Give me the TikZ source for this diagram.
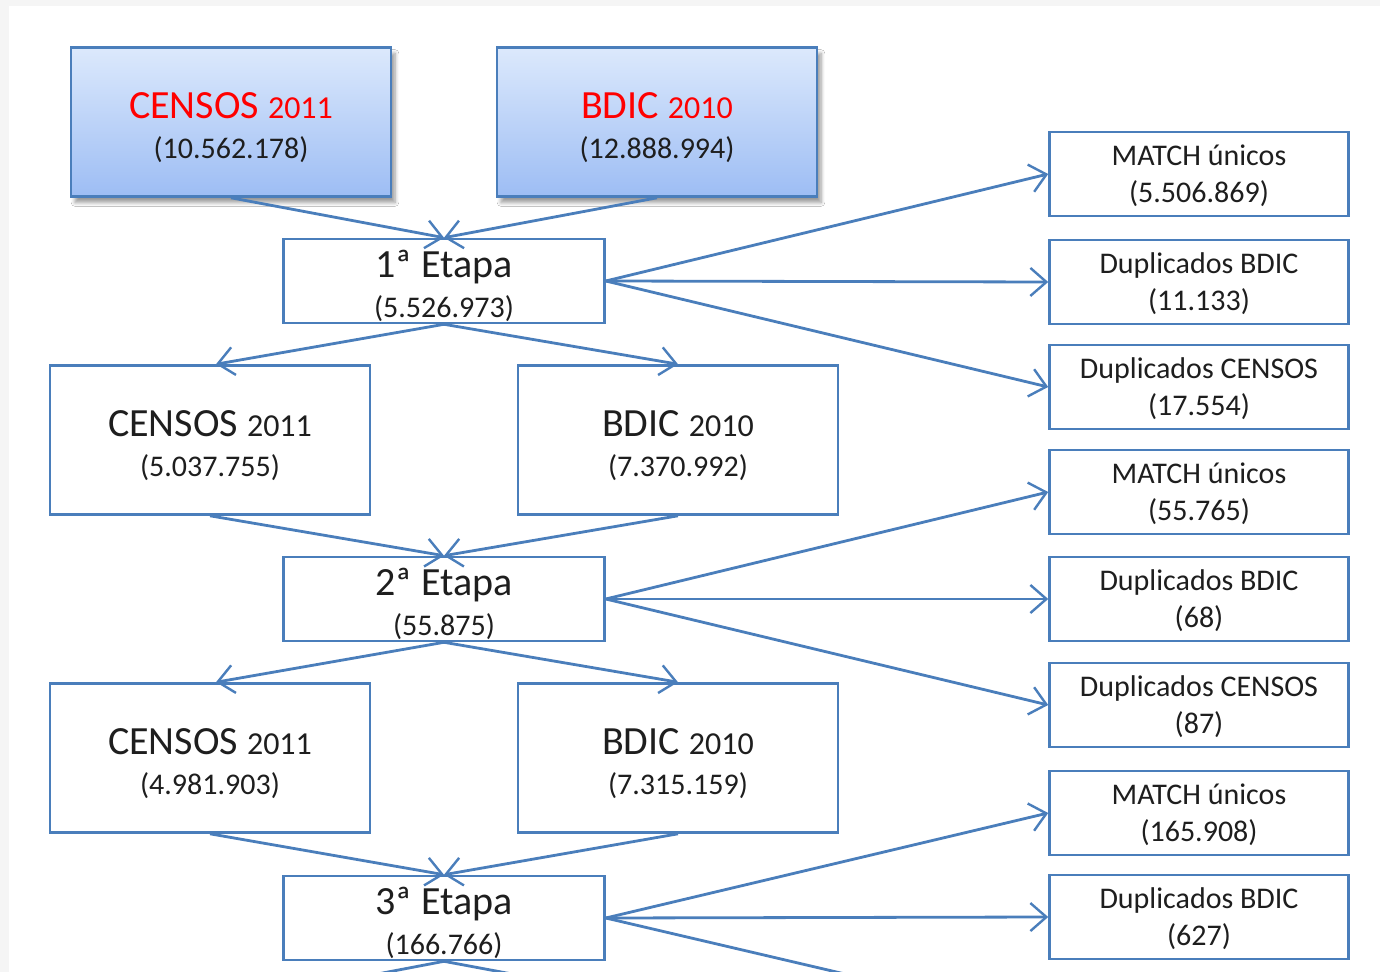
\documentclass[tikz,border=0pt]{standalone}
\usepackage{fontspec}
\setmainfont{Carlito}
\usepackage{tikz}
\usetikzlibrary{arrows.meta,shadows.blur}
\definecolor{boxblue}{HTML}{4A7EBB}
\definecolor{topfill}{HTML}{DCE9FC}
\definecolor{botfill}{HTML}{9DBDF4}
\definecolor{txt}{HTML}{1E1E1E}
\newcommand{\bigt}{\fontsize{20}{20}\selectfont}
\newcommand{\yrt}{\fontsize{16}{20}\selectfont}
\tikzset{
  box/.style={draw=boxblue, line width=1.3pt, fill=white, text=txt, inner sep=0pt,
    align=center, font=\fontsize{15}{20}\selectfont},
  srcbox/.style={box, minimum width=160pt, minimum height=74.5pt, top color=topfill,
    bottom color=botfill, text height=36.5pt, text depth=0pt,
    blur shadow={shadow xshift=2pt, shadow yshift=-3pt, shadow blur steps=6}},
  setbox/.style={box, minimum width=160pt, minimum height=74.5pt, text height=36.5pt, text depth=0pt},
  etapa/.style={box, minimum width=160.5pt, minimum height=42pt, text height=36.5pt, text depth=0pt},
  outbox/.style={box, minimum width=149.5pt, minimum height=42pt, text depth=0pt,
    font=\fontsize{15}{18.5}\selectfont},
  link/.style={draw=boxblue, line width=1.4pt, -{Straight Barb[length=8pt,width=14pt,line width=1.2pt]}}
}
\begin{document}
\begin{tikzpicture}[x=0.5pt,y=-0.5pt]
\useasboundingbox (0,0) rectangle (1380,972);
\clip (0,0) rectangle (1380,972);
\fill[black!4] (0,0) rectangle (1380,972);
\fill[white] (9,6) rectangle (1380,972);

% fontes
\node[srcbox] (censos) at (231,122) {{\bigt\color{red}CENSOS {\yrt 2011}}\\(10.562.178)};
\node[srcbox] (bdic) at (657,122) {{\bigt\color{red}BDIC {\yrt 2010}}\\(12.888.994)};

% etapas
\node[etapa] (e1) at (444,281) {{\bigt 1ª Etapa}\\(5.526.973)};
\node[etapa] (e2) at (444,599) {{\bigt 2ª Etapa}\\(55.875)};
\node[etapa] (e3) at (444,918) {{\bigt 3ª Etapa}\\(166.766)};

% restantes
\node[setbox] (censosA) at (210,440) {{\bigt CENSOS {\yrt 2011}}\\(5.037.755)};
\node[setbox] (bdicA) at (678,440) {{\bigt BDIC {\yrt 2010}}\\(7.370.992)};
\node[setbox] (censosB) at (210,758) {{\bigt CENSOS {\yrt 2011}}\\(4.981.903)};
\node[setbox] (bdicB) at (678,758) {{\bigt BDIC {\yrt 2010}}\\(7.315.159)};

% resultados
\node[outbox] (m1) at (1199,174) {MATCH únicos\\(5.506.869)};
\node[outbox] (db1) at (1199,282) {Duplicados BDIC\\(11.133)};
\node[outbox] (dc1) at (1199,387) {Duplicados CENSOS\\(17.554)};
\node[outbox] (m2) at (1199,492) {MATCH únicos\\(55.765)};
\node[outbox] (db2) at (1199,599) {Duplicados BDIC\\(68)};
\node[outbox] (dc2) at (1199,705) {Duplicados CENSOS\\(87)};
\node[outbox] (m3) at (1199,813) {MATCH únicos\\(165.908)};
\node[outbox] (db3) at (1199,917) {Duplicados BDIC\\(627)};

% continuam abaixo
\coordinate (censosC) at (215,1005);
\coordinate (bdicC) at (678,1005);
\coordinate (dc3) at (1050,1022);

\draw[link] (censos.south) -- (e1.north);
\draw[link] (bdic.south) -- (e1.north);
\draw[link] (e1.south) -- ([xshift=3pt]censosA.north);
\draw[link] (e1.south) -- (bdicA.north);
\draw[link] (censosA.south) -- (e2.north);
\draw[link] (bdicA.south) -- (e2.north);
\draw[link] (e2.south) -- ([xshift=3pt]censosB.north);
\draw[link] (e2.south) -- (bdicB.north);
\draw[link] (censosB.south) -- (e3.north);
\draw[link] (bdicB.south) -- (e3.north);
\draw[link] (e3.south) -- (censosC);
\draw[link] (e3.south) -- (bdicC);

\foreach \e/\a/\b/\c in {e1/m1/db1/dc1, e2/m2/db2/dc2} {
  \draw[link] (\e.east) -- (\a.west);
  \draw[link] (\e.east) -- (\b.west);
  \draw[link] (\e.east) -- (\c.west);
}
\draw[link] (e3.east) -- (m3.west);
\draw[link] (e3.east) -- (db3.west);
\draw[link] (e3.east) -- (dc3);
\end{tikzpicture}
\end{document}
